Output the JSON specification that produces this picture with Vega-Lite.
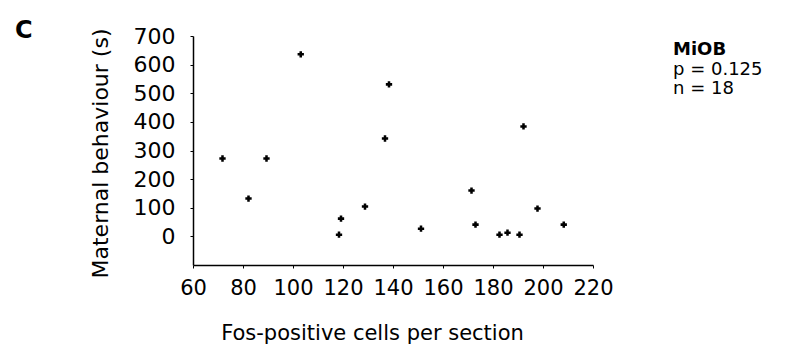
{
  "$schema": "https://vega.github.io/schema/vega-lite/v6.json",
  "autosize": "none",
  "width": 400,
  "height": 229,
  "padding": {"left": 193, "top": 36, "right": 197, "bottom": 85},
  "background": "white",
  "config": {
    "view": {"stroke": null},
    "font": "DejaVu Sans",
    "axis": {"grid": false, "domainColor": "black", "tickColor": "black", "labelColor": "black", "titleColor": "black", "labelFont": "DejaVu Sans", "titleFont": "DejaVu Sans", "titleFontWeight": "normal", "domainWidth": 1.5, "tickWidth": 1, "tickSize": 3, "labelOverlap": false}
  },
  "encoding": {
    "x": {"field": "fos", "type": "quantitative", "scale": {"domain": [60, 220], "nice": false, "zero": false},
      "axis": {"values": [60, 80, 100, 120, 140, 160, 180, 200, 220], "title": "Fos-positive cells per section", "labelFontSize": 21, "titleFontSize": 21, "labelPadding": 9, "titleX": 179, "titleY": 74, "titleAlign": "center", "titleBaseline": "alphabetic", "labelFlush": false, "labelOverlap": false}},
    "y": {"field": "behaviour", "type": "quantitative", "scale": {"domain": [-100, 700], "nice": false, "zero": false},
      "axis": {"values": [0, 100, 200, 300, 400, 500, 600, 700], "title": "Maternal behaviour (s)", "labelFontSize": 22, "titleFontSize": 22, "labelPadding": 15, "titleX": -86, "titleY": 117, "titleAngle": -90, "titleAlign": "center", "titleBaseline": "alphabetic", "labelFlush": false, "labelOverlap": false, "labelBound": false}}
  },
  "layer": [
    {
      "data": {"values": [
        {"fos": 71.8, "behaviour": 272},
        {"fos": 82.2, "behaviour": 132},
        {"fos": 89.4, "behaviour": 272},
        {"fos": 103.1, "behaviour": 636},
        {"fos": 118.4, "behaviour": 6},
        {"fos": 119.2, "behaviour": 62},
        {"fos": 128.8, "behaviour": 104},
        {"fos": 136.8, "behaviour": 342},
        {"fos": 138.4, "behaviour": 531},
        {"fos": 151.2, "behaviour": 27},
        {"fos": 171.4, "behaviour": 160},
        {"fos": 173.0, "behaviour": 41},
        {"fos": 182.6, "behaviour": 6},
        {"fos": 185.8, "behaviour": 13},
        {"fos": 190.6, "behaviour": 6},
        {"fos": 192.2, "behaviour": 384},
        {"fos": 197.8, "behaviour": 97},
        {"fos": 208.3, "behaviour": 41}
      ]},
      "mark": {"type": "point", "shape": "cross", "filled": true, "color": "black", "size": 40, "opacity": 1}
    },
    {
      "data": {"values": [{"label": "C", "fos": -11.2, "behaviour": 693}]},
      "mark": {"type": "text", "align": "left", "baseline": "alphabetic", "color": "black", "font": "DejaVu Sans", "fontWeight": "bold", "fontSize": 24},
      "encoding": {"text": {"field": "label"}}
    },
    {
      "data": {"values": [{"label": "MiOB", "fos": 252, "behaviour": 633.6}]},
      "mark": {"type": "text", "align": "left", "baseline": "alphabetic", "color": "black", "font": "DejaVu Sans", "fontWeight": "bold", "fontSize": 18},
      "encoding": {"text": {"field": "label"}}
    },
    {
      "data": {"values": [
        {"label": "p = 0.125", "fos": 252, "behaviour": 565.5},
        {"label": "n = 18", "fos": 252, "behaviour": 497.4}
      ]},
      "mark": {"type": "text", "align": "left", "baseline": "alphabetic", "color": "black", "font": "DejaVu Sans", "fontSize": 18},
      "encoding": {"text": {"field": "label"}}
    }
  ]
}
